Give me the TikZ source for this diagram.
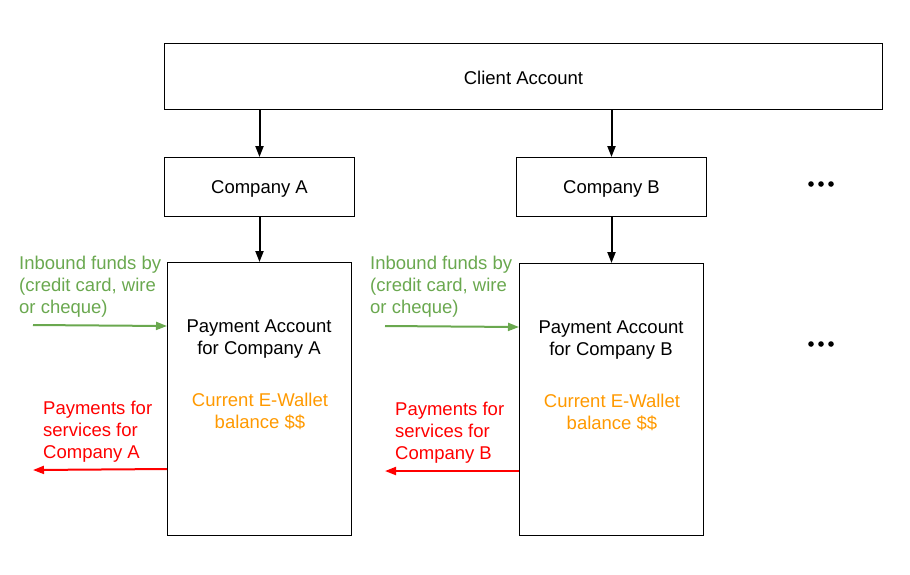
\documentclass[tikz,border=0pt]{standalone}
\usepackage{fontspec}
\setmainfont{Liberation Sans}
\usetikzlibrary{positioning,arrows.meta,calc}
\definecolor{fundgreen}{HTML}{6AA84F}
\definecolor{payred}{HTML}{FF0000}
\definecolor{walletorange}{HTML}{FF9900}

\begin{document}
\begin{tikzpicture}[
  x=1pt, y=-1pt,
  font=\fontsize{18.5}{22}\selectfont,
  box/.style={draw, line width=1pt, inner sep=0pt, anchor=north west},
  txt/.style={inner sep=0pt, align=center, anchor=north},
  side/.style={inner sep=0pt, align=left, anchor=north west},
  edge/.style={-{Triangle[length=11pt,width=8pt]}, line width=2pt},
  flow/.style={-{Triangle[length=11pt,width=8pt]}, line width=2pt}
]
  \useasboundingbox (0,0) rectangle (910,574);

  \node[box, minimum width=718pt, minimum height=66pt] (client) at (164,43) {};
  \node[box, minimum width=190pt, minimum height=59pt] (compA) at (164,157) {};
  \node[box, minimum width=190pt, minimum height=59pt] (compB) at (516,157) {};
  \node[box, minimum width=184pt, minimum height=273pt] (payA) at (167,262) {};
  \node[box, minimum width=184pt, minimum height=272pt] (payB) at (519,263) {};

  \node (clientT) at ([yshift=-1pt]client.center) {Client Account};
  \node (compAT) at ([yshift=-2pt]compA.center) {Company A};
  \node (compBT) at ([yshift=-2pt]compB.center) {Company B};

  \node[txt] (payAT) at (259,320) {Payment Account\\for Company A};
  \node[txt, text=walletorange] (walA) at (260,393) {Current E-Wallet\\balance \$\$};
  \node[txt] (payBT) at (611,321) {Payment Account\\for Company B};
  \node[txt, text=walletorange] (walB) at (612,394) {Current E-Wallet\\balance \$\$};

  \node[side, text=fundgreen] (inA) at (19,256) {Inbound funds by\\(credit card, wire\\or cheque)};
  \node[side, text=fundgreen] (inB) at (370,256) {Inbound funds by\\(credit card, wire\\or cheque)};
  \node[side, text=payred] (outA) at (43,401) {Payments for\\services for\\Company A};
  \node[side, text=payred] (outB) at (395,402) {Payments for\\services for\\Company B};

  \draw[edge] (client.south -| compA.center) -- (compA.north);
  \draw[edge] (client.south -| compB.center) -- (compB.north);
  \draw[edge] (compA.south) -- (compA.south |- payA.north);
  \draw[edge] (compB.south) -- (compB.south |- payB.north);

  \coordinate (srcA) at (33,325);
  \coordinate (srcB) at (385,326);
  \coordinate (dstA) at (33,470);
  \coordinate (dstB) at (385,471);
  \draw[flow, fundgreen] (srcA) -- (payA.west |- 0,326);
  \draw[flow, fundgreen] (srcB) -- (payB.west |- 0,327);
  \draw[flow, payred] (payA.west |- 0,469) -- (dstA);
  \draw[flow, payred] (payB.west |- 0,471) -- (dstB);

  % more companies
  \foreach \yy in {184,344}
    \foreach \xx in {811,821,831}
      \fill (\xx,\yy) circle (2.8pt);
\end{tikzpicture}
\end{document}
